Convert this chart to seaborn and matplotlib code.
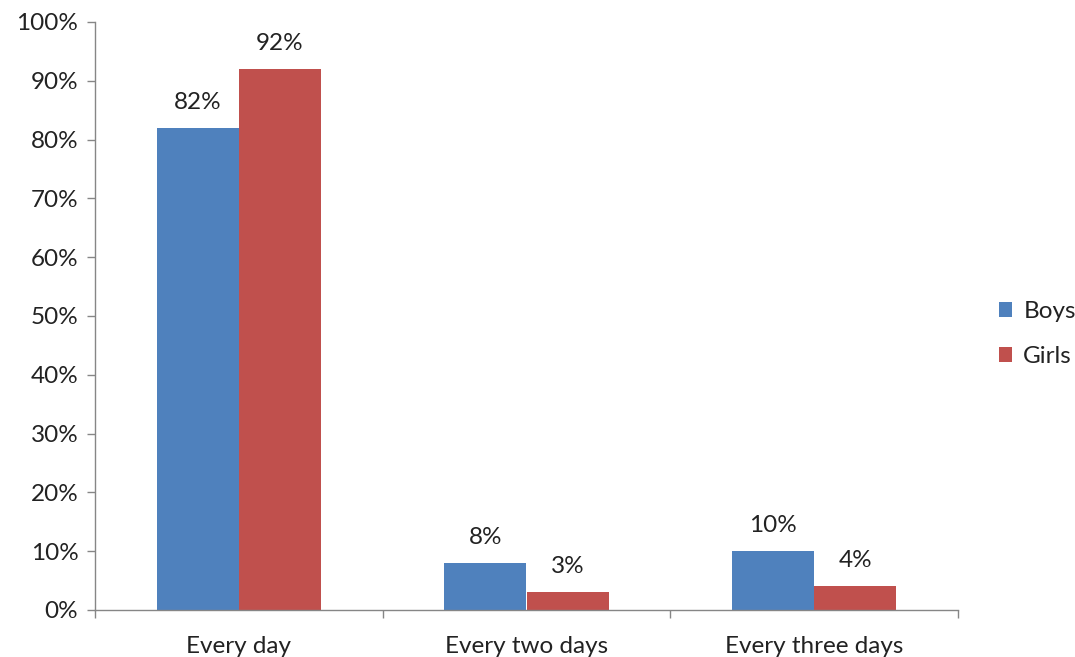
import matplotlib
matplotlib.use("Agg")
import matplotlib.pyplot as plt
import seaborn as sns
import pandas as pd
from matplotlib.ticker import FixedLocator, PercentFormatter
from matplotlib.patches import Patch

categories = ["Every day", "Every two days", "Every three days"]
boys = [82, 8, 10]
girls = [92, 3, 4]
series_names = ["Boys", "Girls"]
y_ticks = list(range(0, 101, 10))

df = pd.DataFrame({
    "freq": categories * 2,
    "pct": boys + girls,
    "sex": [series_names[0]] * 3 + [series_names[1]] * 3,
})

sns.set_theme(style="white")
plt.rcParams["font.family"] = ["Lato", "DejaVu Sans"]

colors = ["#4F81BD", "#C0504D"]
axis_grey = "#868686"
text_col = "#222222"
fs = 17.5

fig = plt.figure(figsize=(10.75, 6.57), dpi=100)
ax = fig.add_axes([95 / 1075, 1 - 610 / 657, (958 - 95) / 1075, (610 - 22) / 657])

sns.barplot(data=df, x="freq", y="pct", hue="sex", order=categories,
            hue_order=series_names, palette=colors, width=0.572,
            saturation=1, ax=ax, legend=False, linewidth=0)

for cont in ax.containers:
    ax.bar_label(cont, labels=[f"{v:.0f}%" for v in cont.datavalues],
                 padding=11, fontsize=fs, color=text_col)

ax.set_xlim(-0.5, 2.5)
ax.set_ylim(0, 100)
ax.yaxis.set_major_locator(FixedLocator(y_ticks))
ax.yaxis.set_major_formatter(PercentFormatter(decimals=0))
ax.set_xlabel("")
ax.set_ylabel("")

for side in ["top", "right"]:
    ax.spines[side].set_visible(False)
for side in ["left", "bottom"]:
    ax.spines[side].set_color(axis_grey)
    ax.spines[side].set_linewidth(1.0)

ax.tick_params(axis="y", which="major", length=6, width=1, color=axis_grey,
               labelsize=fs, labelcolor=text_col, pad=6, left=True)
ax.set_xticks([0, 1, 2])
ax.set_xticks([-0.5, 0.5, 1.5, 2.5], minor=True)
ax.tick_params(axis="x", which="major", length=0, labelsize=fs,
               labelcolor=text_col, pad=19)
ax.tick_params(axis="x", which="minor", length=6, width=1, color=axis_grey,
               bottom=True)

handles = [Patch(facecolor=c, edgecolor="none", label=n)
           for c, n in zip(colors, series_names)]
fig.legend(handles=handles, loc="center left",
           bbox_to_anchor=(999 / 1075, 1 - 334 / 657), frameon=False,
           fontsize=fs, handlelength=0.55, handleheight=0.6,
           handletextpad=0.45, labelspacing=1.0, labelcolor=text_col,
           borderaxespad=0, borderpad=0)

fig.savefig("out.png", dpi=100, facecolor="white")
